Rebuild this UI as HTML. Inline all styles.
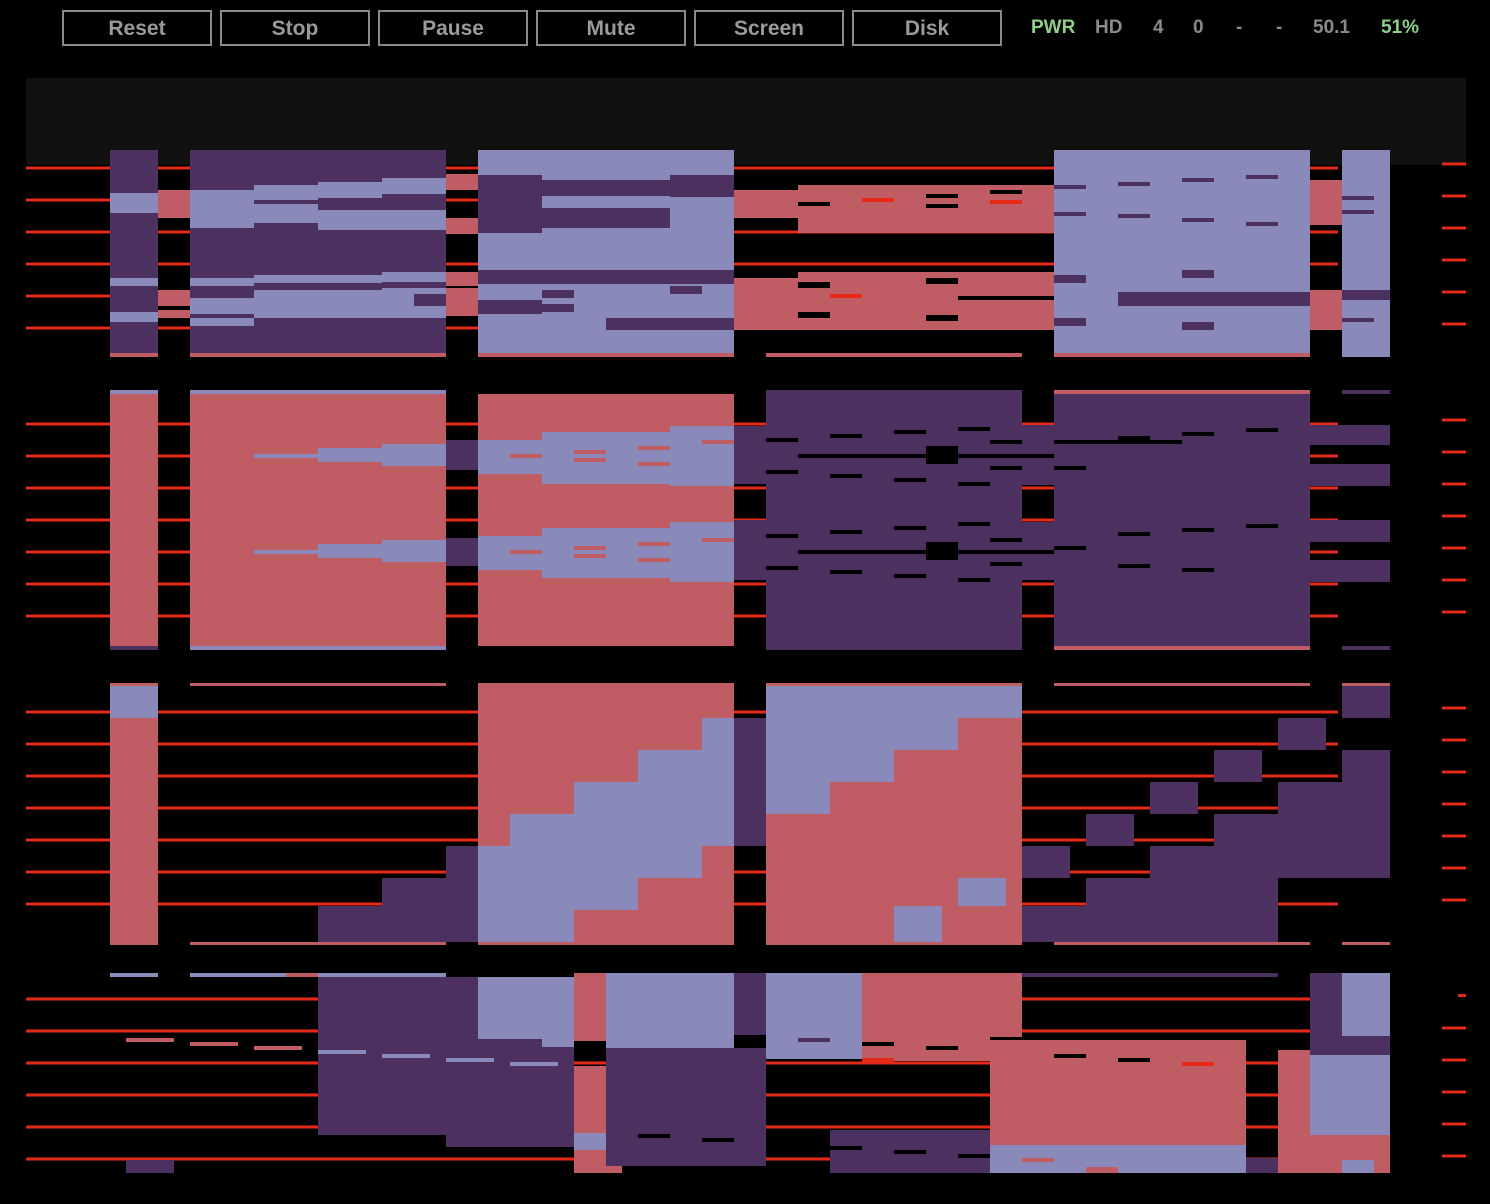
<!DOCTYPE html>
<html><head><meta charset="utf-8"><style>
html,body{margin:0;padding:0;background:#000;width:1490px;height:1204px;overflow:hidden;font-family:"Liberation Sans",sans-serif}
.btn{position:absolute;top:10px;width:146px;height:32px;border:2px solid #8a8a8a;color:#9a9a9a;font-weight:bold;font-size:21px;text-align:center;line-height:34px;box-sizing:content-box}
.st{position:absolute;top:17px;font-weight:bold;font-size:19px;color:#8a8a8a}
.g{color:#8fcf8a}
svg{position:absolute;left:0;top:0}
</style></head><body>
<div class="btn" style="left:62px">Reset</div>
<div class="btn" style="left:220px">Stop</div>
<div class="btn" style="left:378px">Pause</div>
<div class="btn" style="left:536px">Mute</div>
<div class="btn" style="left:694px">Screen</div>
<div class="btn" style="left:852px">Disk</div>
<div class="st g" style="left:1031px">PWR</div>
<div class="st" style="left:1095px">HD</div>
<div class="st" style="left:1153px">4</div>
<div class="st" style="left:1193px">0</div>
<div class="st" style="left:1236px">-</div>
<div class="st" style="left:1276px">-</div>
<div class="st" style="left:1313px">50.1</div>
<div class="st g" style="left:1381px">51%</div>
<svg width="1490" height="1204">
<rect x="26" y="78" width="1440" height="87" fill="#111"/>
<g id="lines"></g>
<g id="blocks"></g>
</svg>
<script>
var P='#4b3060',L='#8a8aba',S='#c05c64',K='#000',R='#e52a1a';
var lineYs=[168,200,232,264,296,328,424,456,488,520,552,584,616,712,744,776,808,840,872,904,999,1031,1063,1095,1127,1159];
var tickYs=[164,196,228,260,292,324,420,452,484,516,548,580,612,708,740,772,804,836,868,900,1028,1060,1092,1124,1156];
var blocks=[
[110,150,48,207,P],[110,193,48,20,L],[110,278,48,8,L],[110,312,48,10,L],[110,353,48,4,S],
[158,190,32,28,S],[158,290,32,16,S],[158,310,32,8,S],
[190,150,256,207,P],[190,190,64,38,L],[254,185,64,38,L],[254,200,64,4,P],[318,182,64,48,L],[318,198,64,12,P],[382,178,64,52,L],[382,194,64,16,P],
[190,278,64,8,L],[190,298,64,16,L],[190,318,64,8,L],[254,275,128,8,L],[254,290,128,28,L],[382,272,64,10,L],[382,288,64,30,L],[414,294,32,12,P],[190,353,256,4,S],
[446,174,32,16,S],[446,218,32,16,S],[446,272,32,14,S],[446,288,32,28,S],
[478,150,256,207,L],[478,175,64,58,P],[542,180,128,48,P],[542,196,128,12,L],[670,175,64,22,P],[478,270,256,14,P],[478,300,64,14,P],[542,290,32,8,P],[542,304,32,8,P],[606,318,128,12,P],[670,286,32,8,P],[478,353,256,4,S],
[734,190,64,28,S],[798,185,256,48,S],[734,278,64,52,S],[798,272,256,58,S],
[798,202,32,4,K],[926,194,32,4,K],[926,204,32,4,K],[990,190,32,4,K],[862,198,32,4,R],[990,200,32,4,R],[798,282,32,6,K],[926,278,32,6,K],[830,294,32,4,R],[798,312,32,6,K],[926,315,32,6,K],[958,296,96,4,K],[766,353,256,4,S],
[1054,150,256,207,L],[1054,185,32,4,P],[1054,212,32,4,P],[1118,182,32,4,P],[1118,214,32,4,P],[1182,178,32,4,P],[1182,218,32,4,P],[1246,175,32,4,P],[1246,222,32,4,P],[1054,275,32,8,P],[1054,318,32,8,P],[1118,292,192,14,P],[1182,270,32,8,P],[1182,322,32,8,P],[1054,353,256,4,S],
[1310,180,32,45,S],[1310,290,32,40,S],[1310,175,32,4,K],
[1342,150,48,207,L],[1342,196,32,4,P],[1342,210,32,4,P],[1342,290,48,10,P],[1342,318,32,4,P],
[110,390,48,4,L],[110,394,48,252,S],[110,646,48,4,P],
[190,390,256,4,L],[190,394,256,252,S],[190,646,256,4,L],
[254,454,64,4,L],[318,448,64,14,L],[382,444,64,22,L],[254,550,64,4,L],[318,544,64,14,L],[382,540,64,22,L],
[446,440,32,30,P],[446,538,32,28,P],
[478,394,256,252,S],[478,440,256,34,L],[542,432,192,52,L],[670,426,64,60,L],[478,536,256,34,L],[542,528,192,50,L],[670,522,64,60,L],
[510,454,32,4,S],[574,450,32,4,S],[574,458,32,4,S],[638,446,32,4,S],[638,462,32,4,S],[702,440,32,4,S],[510,550,32,4,S],[574,546,32,4,S],[574,554,32,4,S],[638,542,32,4,S],[638,558,32,4,S],[702,538,32,4,S],
[734,426,32,58,P],[734,520,32,60,P],
[766,390,256,260,P],[1022,425,32,60,P],[1022,522,32,58,P],
[1054,390,256,4,S],[1054,394,256,252,P],[1054,646,256,4,S],
[1310,425,80,20,P],[1310,464,80,22,P],[1310,520,80,22,P],[1310,560,80,22,P],[1342,390,48,4,P],[1342,646,48,4,P],
[766,438,32,4,K],[830,434,32,4,K],[894,430,32,4,K],[958,427,32,4,K],[766,470,32,4,K],[830,474,32,4,K],[894,478,32,4,K],[958,482,32,4,K],
[798,454,256,4,K],[926,446,32,18,K],[990,440,32,4,K],[990,466,32,4,K],[1054,440,32,4,K],[1054,466,32,4,K],[1118,436,32,4,K],[1182,432,32,4,K],[1246,428,32,4,K],
[766,534,32,4,K],[830,530,32,4,K],[894,526,32,4,K],[958,522,32,4,K],[766,566,32,4,K],[830,570,32,4,K],[894,574,32,4,K],[958,578,32,4,K],
[798,550,256,4,K],[926,542,32,18,K],[990,538,32,4,K],[990,562,32,4,K],[1054,546,32,4,K],[1118,532,32,4,K],[1182,528,32,4,K],[1246,524,32,4,K],[1118,564,32,4,K],[1182,568,32,4,K],[1054,440,128,4,K],
[110,683,48,3,S],[110,686,48,32,L],[110,718,48,227,S],[190,683,256,3,S],[190,942,256,3,S],
[318,906,64,36,P],[382,878,64,64,P],[446,846,32,96,P],
[478,683,256,262,S],[478,846,96,96,L],[510,814,64,32,L],[574,782,64,128,L],[638,750,64,128,L],[702,718,32,128,L],
[734,718,32,128,P],
[766,683,256,262,S],[766,686,64,128,L],[830,686,64,96,L],[894,686,64,64,L],[958,686,64,32,L],[894,906,48,36,L],[958,878,48,28,L],
[1022,846,48,32,P],[1022,906,64,36,P],[1086,814,48,32,P],[1086,878,192,64,P],[1150,782,48,32,P],[1150,846,192,32,P],[1214,750,48,32,P],[1214,814,128,32,P],[1278,718,48,32,P],[1278,782,64,32,P],
[1342,686,48,32,P],[1342,750,48,128,P],[1054,683,256,3,S],[1342,683,48,3,S],[1054,942,256,3,S],[1342,942,48,3,S],
[110,973,48,4,L],[190,973,96,4,L],[286,973,32,4,S],[318,973,128,4,L],
[318,977,160,158,P],[446,977,128,170,P],[478,977,96,62,L],[542,977,32,70,L],
[318,1050,48,4,L],[382,1054,48,4,L],[446,1058,48,4,L],[510,1062,48,4,L],
[126,1038,48,4,S],[190,1042,48,4,S],[254,1046,48,4,S],[126,1160,48,13,P],
[574,973,32,68,S],[574,1066,32,75,S],[606,1066,16,75,L],[574,1133,32,20,L],[574,1150,48,23,S],
[606,973,128,96,L],[606,1048,160,118,P],[734,973,32,62,P],
[766,973,96,86,L],[798,1038,32,4,P],[862,973,160,64,S],[862,1037,128,24,S],[830,1130,192,43,P],[862,1058,32,4,R],
[862,1042,32,4,K],[926,1046,32,4,K],[990,1050,32,4,K],[638,1134,32,4,K],[702,1138,32,4,K],[766,1142,32,4,K],[830,1146,32,4,K],[894,1150,32,4,K],[958,1154,32,4,K],[990,1162,32,4,K],
[990,1040,256,105,S],[990,1145,256,28,L],[1086,1167,32,6,S],[1022,1158,32,4,S],[1054,1054,32,4,K],[1118,1058,32,4,K],[1182,1062,32,4,R],[1022,973,256,4,P],
[1278,1050,32,123,S],[1246,1158,32,15,P],
[1310,973,32,82,P],[1310,1055,32,80,L],[1310,1135,80,38,S],[1342,973,48,63,L],[1342,1036,48,19,P],[1342,1055,48,80,L],[1342,1160,32,13,L]
];
var NS='http://www.w3.org/2000/svg';
var lg=document.getElementById('lines'),bg=document.getElementById('blocks');
lineYs.forEach(function(y,i){var r=document.createElementNS(NS,'rect');r.setAttribute('x',26);r.setAttribute('y',y-1.5);r.setAttribute('width',i>=20?1310:1312);r.setAttribute('height',3);r.setAttribute('fill',R);


lg.appendChild(r);});
tickYs.forEach(function(y){var r=document.createElementNS(NS,'rect');r.setAttribute('x',1442);r.setAttribute('y',y-1.5);r.setAttribute('width',24);r.setAttribute('height',3);r.setAttribute('fill',R);


lg.appendChild(r);});
(function(){var r=document.createElementNS(NS,'rect');r.setAttribute('x',1458);r.setAttribute('y',994);r.setAttribute('width',8);r.setAttribute('height',3);r.setAttribute('fill',R);


lg.appendChild(r);})();
blocks.forEach(function(b){var r=document.createElementNS(NS,'rect');r.setAttribute('x',b[0]);r.setAttribute('y',b[1]);r.setAttribute('width',b[2]);r.setAttribute('height',b[3]);r.setAttribute('fill',b[4]);


bg.appendChild(r);});
</script>
</body></html>
